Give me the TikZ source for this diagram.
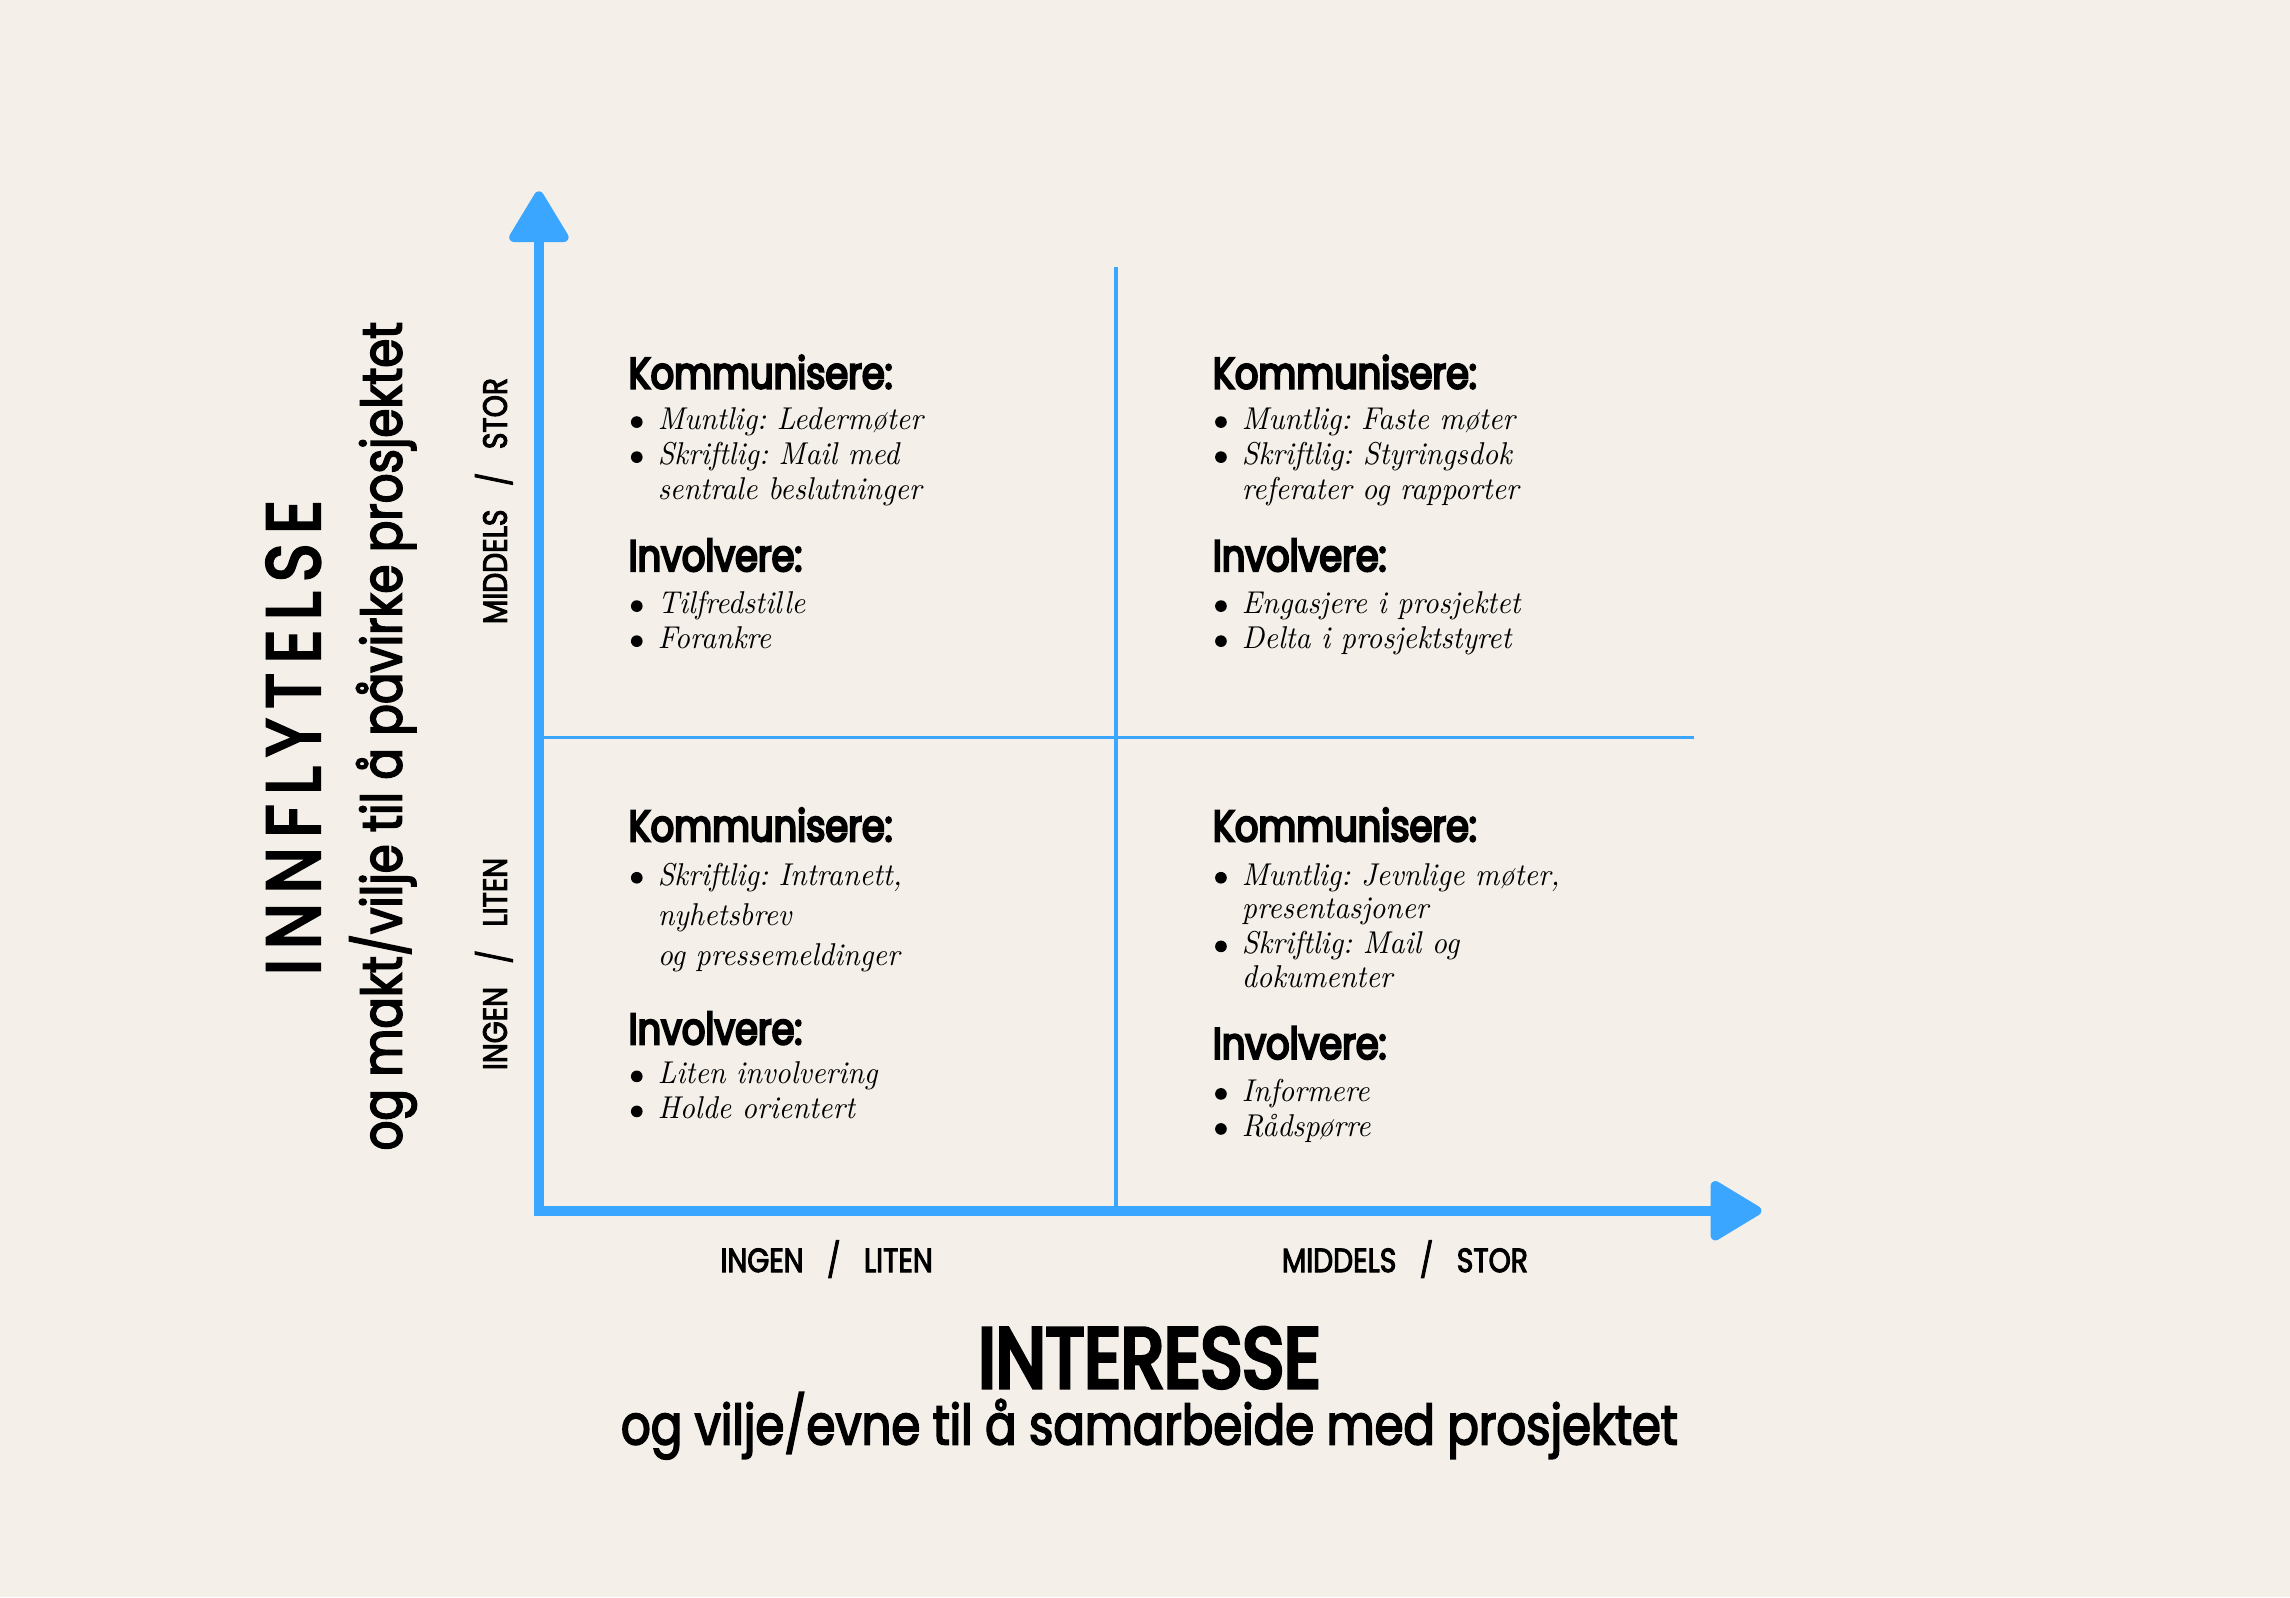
\documentclass[tikz,border=0pt]{standalone}
\usepackage{fontspec}
\usetikzlibrary{arrows.meta}
\newfontfamily\medfont{Poppins}[FakeStretch=0.84,FakeBold=3]
\newfontfamily\semifont{Poppins}[FakeStretch=0.84,FakeBold=5]
\newfontfamily\spacedfont{Poppins}[FakeStretch=0.86,FakeBold=3.5,LetterSpace=13]
\newfontfamily\itemfont{Latin Modern Roman}[FakeStretch=0.94]
\definecolor{axisblue}{RGB}{58,166,255}
\definecolor{paper}{RGB}{244,240,233}
\frenchspacing

\tikzset{%
				quad head/.style={
					anchor=base west,
					inner sep=0pt,
					font=\semifont\fontsize{15}{18}\selectfont
				},
				quad item/.style={
					anchor=base west,
					inner sep=0pt,
					font=\itemfont\itshape\fontsize{10.8}{12}\selectfont
				},
				quad dot/.style={
					circle,
					fill=black,
					inner sep=0pt,
					minimum size=4pt
				},
				level label/.style={
					anchor=base,
					inner sep=0pt,
					font=\medfont\fontsize{11.5}{13}\selectfont
				},
				axis line/.style={
					draw=axisblue,
					line width=3.3pt
				},
				divider/.style={
					draw=axisblue,
					line width=1.2pt
				},
			}

\begin{document}
\begin{tikzpicture}[x=0.5pt, y=-0.5pt, >={Triangle[length=19pt,width=22pt,round]}]
			
			\fill[paper] (0,0) rectangle (1568,1093.5);
			
			\coordinate (origin) at (369,829);
			\coordinate (ytip) at (369,131);
			\coordinate (xtip) at (1206,829);
			\coordinate (vtop) at (764,183);
			\coordinate (vbot) at (764,829);
			\coordinate (hleft) at (369,505);
			\coordinate (hright) at (1160,505);
			
			\draw [divider] (vtop) -- (vbot);
			\draw [divider] (hleft) -- (hright);
			\draw [axis line, <->] (ytip) -- (origin) -- (xtip);
			
			% top left
			\node [quad head] (tl-head-1) at (430,266) {Kommunisere:};
			\node [quad head] (tl-head-2) at (430,391) {Involvere:};
			\foreach \t/\y [count=\i] in {Muntlig: Ledermøter/294, Skriftlig: Mail med/318, sentrale beslutninger/342, Tilfredstille/420, Forankre/444}
			\node [quad item] (tl-item-\i) at (450,\y) {\t};
			\foreach \y [count=\i] in {294,318,420,444}
			\node [quad dot] (tl-dot-\i) at (436,\y-5) {};
			
			% top right
			\node [quad head] (tr-head-1) at (830,266) {Kommunisere:};
			\node [quad head] (tr-head-2) at (830,391) {Involvere:};
			\foreach \t/\y [count=\i] in {Muntlig: Faste møter/294, Skriftlig: Styringsdok/318, referater og rapporter/342, Engasjere i prosjektet/420, Delta i prosjektstyret/444}
			\node [quad item] (tr-item-\i) at (850,\y) {\t};
			\foreach \y [count=\i] in {294,318,420,444}
			\node [quad dot] (tr-dot-\i) at (836,\y-5) {};
			
			% bottom left
			\node [quad head] (bl-head-1) at (430,576) {Kommunisere:};
			\node [quad head] (bl-head-2) at (430,715) {Involvere:};
			\foreach \t/\y [count=\i] in {{Skriftlig: Intranett,}/606, nyhetsbrev/634, og pressemeldinger/661, Liten involvering/742, Holde orientert/766}
			\node [quad item] (bl-item-\i) at (450,\y) {\t};
			\foreach \y [count=\i] in {606,742,766}
			\node [quad dot] (bl-dot-\i) at (436,\y-5) {};
			
			% bottom right
			\node [quad head] (br-head-1) at (830,576) {Kommunisere:};
			\node [quad head] (br-head-2) at (830,725) {Involvere:};
			\foreach \t/\y [count=\i] in {{Muntlig: Jevnlige møter,}/606, presentasjoner/629, Skriftlig: Mail og/653, dokumenter/676, Informere/754, Rådspørre/778}
			\node [quad item] (br-item-\i) at (850,\y) {\t};
			\foreach \y [count=\i] in {606,653,754,778}
			\node [quad dot] (br-dot-\i) at (836,\y-5) {};
			
			% levels
			\node [level label] (x-low) at (566,871) {INGEN\hspace{0.7em}/\hspace{0.7em}LITEN};
			\node [level label] (x-high) at (962,871) {MIDDELS\hspace{0.7em}/\hspace{0.7em}STOR};
			\node [level label, rotate=90] (y-low) at (347,660) {INGEN\hspace{0.7em}/\hspace{0.7em}LITEN};
			\node [level label, rotate=90] (y-high) at (347,343) {MIDDELS\hspace{0.7em}/\hspace{0.7em}STOR};
			
			% axis titles
			\node [anchor=base, inner sep=0pt, font=\semifont\fontsize{29}{30}\selectfont] (x-title) at (787,950) {INTERESSE};
			\node [anchor=base, inner sep=0pt, font=\medfont\fontsize{19}{22}\selectfont] (x-sub) at (787,989) {og vilje/evne til å samarbeide med prosjektet};
			\node [anchor=base, inner sep=0pt, rotate=90, font=\spacedfont\fontsize{26}{30}\selectfont] (y-title) at (219,505) {INNFLYTELSE};
			\node [anchor=base, inner sep=0pt, rotate=90, font=\medfont\fontsize{19}{22}\selectfont] (y-sub) at (275,504) {og makt/vilje til å påvirke prosjektet};
			
			\end{tikzpicture}
\end{document}
